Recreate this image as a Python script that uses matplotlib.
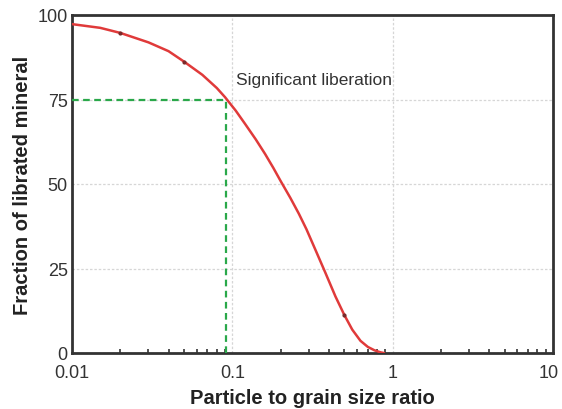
import matplotlib
matplotlib.use("Agg")
import matplotlib.pyplot as plt
import matplotlib.transforms as mtransforms
from matplotlib.ticker import NullFormatter

plt.rcParams["font.family"] = ["Liberation Sans", "DejaVu Sans"]

# curve
ratio = [0.01, 0.015, 0.02, 0.03, 0.04, 0.05, 0.065, 0.08, 0.09, 0.105, 0.12,
         0.14, 0.16, 0.18, 0.2, 0.23, 0.26, 0.29, 0.33, 0.38, 0.44, 0.5,
         0.56, 0.63, 0.7, 0.77, 0.84, 0.88]
liberated = [97.3, 96.2, 94.7, 91.9, 89.3, 86.2, 82.3, 78.4, 75.7, 71.7, 67.8,
             63.2, 58.9, 54.8, 50.9, 45.9, 41.2, 36.6, 30.5, 23.8, 16.7, 11.2,
             6.9, 3.6, 1.8, 0.8, 0.2, 0.0]
dot_x = [0.02, 0.05, 0.5]
dot_y = [94.7, 86.2, 11.2]
x_marker = 0.091
y_marker = 75
yticks = [0, 25, 50, 75, 100]
xticks = [0.01, 0.1, 1, 10]
xticklabels = ["0.01", "0.1", "1", "10"]

fig = plt.figure(figsize=(5.62, 4.10), dpi=100)
ax = fig.add_axes([72 / 562, 1 - 354 / 410, (553 - 72) / 562, (354 - 16) / 410])
ax.set_xscale("log")
ax.set_xlim(0.01, 10)
ax.set_ylim(0, 100)

ax.grid(True, which="major", color="#d6d6d6", lw=0.9, ls=(0, (2, 1.5)))
ax.plot(ratio, liberated, color="#e03a3a", lw=1.8, zorder=4)
ax.plot(dot_x, dot_y, ls="none", marker="o", ms=2, color="#7a2a2a", zorder=5)
ax.plot([0.01, x_marker], [y_marker, y_marker], color="#2aa84a", lw=1.6,
        ls=(0, (3, 2)), zorder=3)
ax.plot([x_marker, x_marker], [0, y_marker], color="#2aa84a", lw=1.6,
        ls=(0, (3, 2)), zorder=3)
ax.text(0.106, 81, "Significant liberation", fontsize=12.5, color="#333333",
        va="center", ha="left")

for s in ax.spines.values():
    s.set_color("#333333")
    s.set_linewidth(2)

ax.set_yticks(yticks)
ax.set_xticks(xticks)
ax.set_xticklabels(xticklabels)
ax.tick_params(axis="y", which="major", length=0, labelsize=13,
               labelcolor="#333333", pad=3)
ax.tick_params(axis="x", which="major", length=0, labelsize=13,
               labelcolor="#333333", pad=8)
ax.tick_params(axis="x", which="minor", direction="in", length=3, width=1.2,
               color="#333333", bottom=True, top=False)
ax.xaxis.set_minor_formatter(NullFormatter())
# nudge the "10" label left so it stays inside the figure
last = ax.get_xticklabels()[-1]
last.set_transform(last.get_transform()
                   + mtransforms.ScaledTranslation(-3 / 72, 0, fig.dpi_scale_trans))

ax.set_xlabel("Particle to grain size ratio", fontsize=14.5, fontweight="bold",
              color="#222222", labelpad=5)
ax.set_ylabel("Fraction of librated mineral", fontsize=14.5, fontweight="bold",
              color="#222222", labelpad=4)

fig.savefig("out.png", dpi=100)
